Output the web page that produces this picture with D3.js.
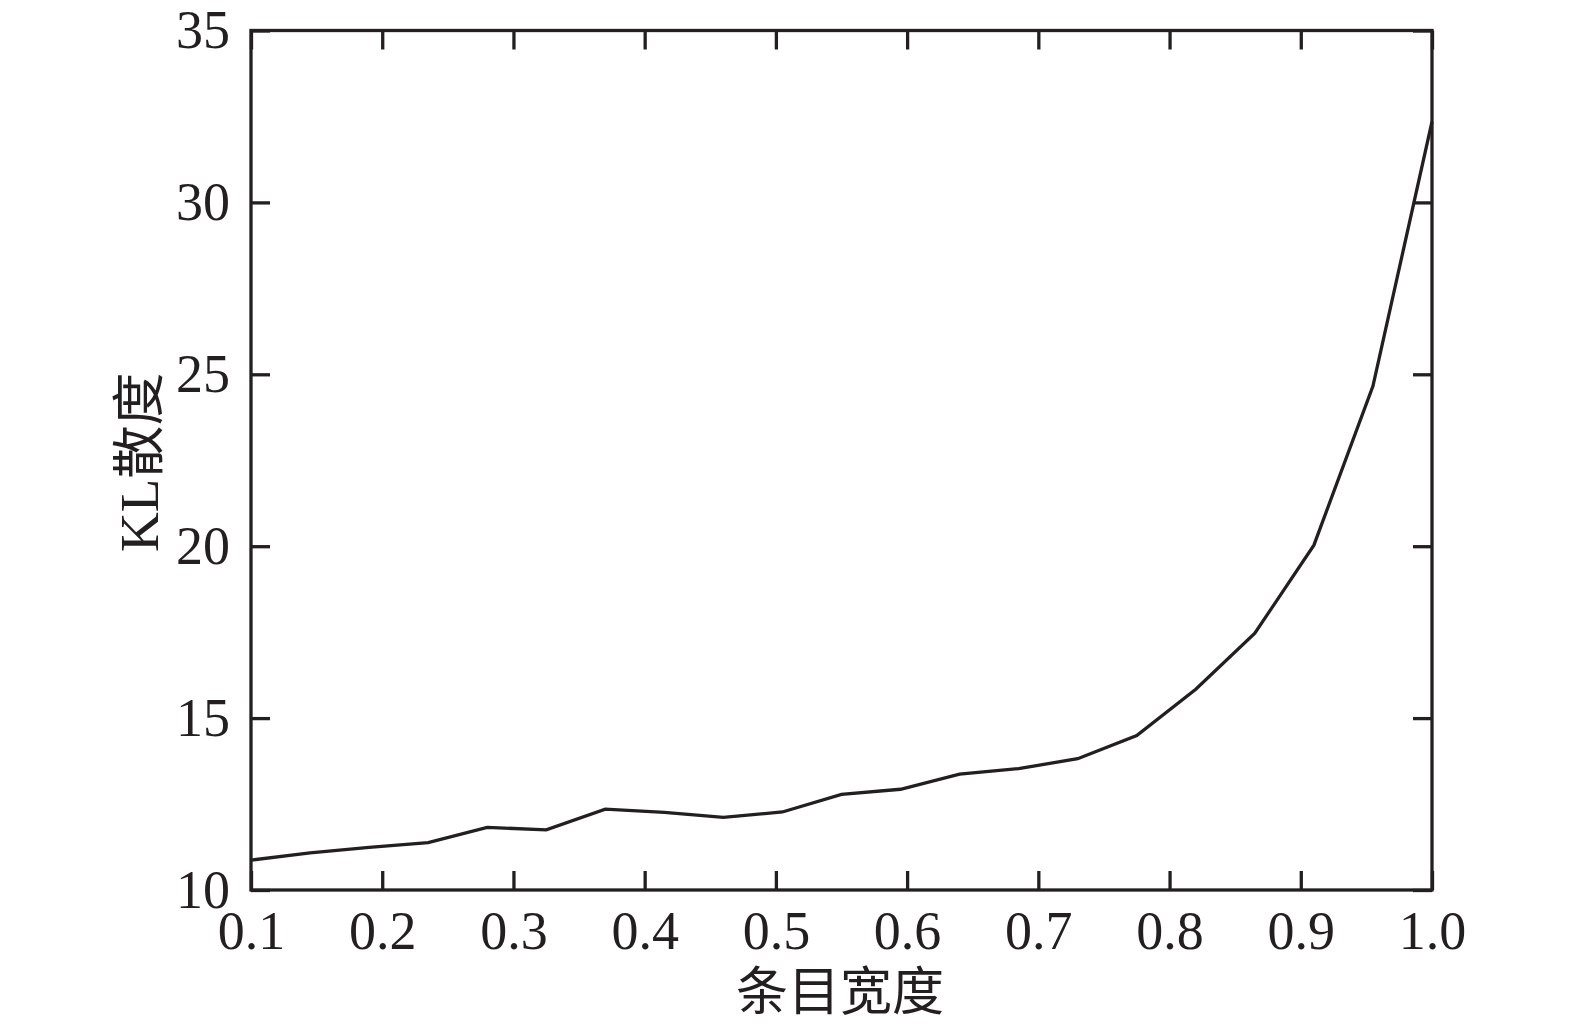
<!DOCTYPE html>
<html>
<head>
<meta charset="utf-8">
<script src="https://cdn.jsdelivr.net/npm/d3@7"></script>
<style>
  html, body { margin: 0; padding: 0; background: #fff; }
  svg { display: block; }
</style>
</head>
<body>
<svg id="chart" width="1575" height="1026"></svg>
<script>
const xValues = [0.1, 0.145, 0.19, 0.235, 0.28, 0.325, 0.37, 0.415, 0.46, 0.505, 0.55,
                 0.595, 0.64, 0.685, 0.73, 0.775, 0.82, 0.865, 0.91, 0.955, 1.0];
const klValues = [10.87, 11.08, 11.24, 11.38, 11.82, 11.75, 12.35, 12.26, 12.11, 12.27, 12.78,
                  12.93, 13.37, 13.53, 13.82, 14.49, 15.84, 17.47, 20.03, 24.66, 32.35];
const xTicks = [0.1, 0.2, 0.3, 0.4, 0.5, 0.6, 0.7, 0.8, 0.9, 1.0];
const yTicks = [10, 15, 20, 25, 30, 35];
const xTitle = "条目宽度";
const yTitleLatin = "KL";
const yTitleCJK = "散度";

const ink = "#231f20";
const serif = "'Liberation Serif', 'DejaVu Serif', serif";
const cjk = "'Noto Sans CJK SC', sans-serif";

const svg = d3.select("#chart");
const L = 251, R = 1432, T = 30.5, B = 890;
const x = d3.scaleLinear().domain([0.1, 1.0]).range([L, R]);
const y = d3.scaleLinear().domain([10, 35]).range([B, T]);
const tickLen = 19;

function styleAxis(g) {
  g.selectAll("path.domain").remove();
  g.selectAll(".tick line").attr("stroke", ink).attr("stroke-width", 3.3);
  g.selectAll(".tick text").attr("fill", ink).style("font-family", serif).style("font-size", "54px");
}

// bottom axis
svg.append("g").attr("transform", `translate(0,${B})`)
  .call(d3.axisBottom(x).tickValues(xTicks).tickFormat(d3.format(".1f")).tickSize(-tickLen).tickPadding(21))
  .call(styleAxis);
// top axis (ticks only)
svg.append("g").attr("transform", `translate(0,${T})`)
  .call(d3.axisTop(x).tickValues(xTicks).tickFormat("").tickSize(-tickLen))
  .call(styleAxis);
// left axis
svg.append("g").attr("transform", `translate(${L},0)`)
  .call(d3.axisLeft(y).tickValues(yTicks).tickFormat(d3.format("d")).tickSize(-tickLen).tickPadding(21))
  .call(styleAxis);
// right axis (ticks only)
svg.append("g").attr("transform", `translate(${R},0)`)
  .call(d3.axisRight(y).tickValues(yTicks).tickFormat("").tickSize(-tickLen))
  .call(styleAxis);

// frame
svg.append("rect")
  .attr("x", L).attr("y", T).attr("width", R - L).attr("height", B - T)
  .attr("fill", "none").attr("stroke", ink).attr("stroke-width", 3.3);

// line
const data = xValues.map((v, i) => ({ x: v, y: klValues[i] }));
svg.append("path")
  .datum(data)
  .attr("fill", "none")
  .attr("stroke", ink)
  .attr("stroke-width", 3.3)
  .attr("stroke-linejoin", "miter")
  .attr("d", d3.line().x(d => x(d.x)).y(d => y(d.y)));

// x title
svg.append("text")
  .attr("x", 840).attr("y", 1010)
  .attr("text-anchor", "middle")
  .attr("fill", ink)
  .style("font-family", cjk).style("font-size", "52px")
  .text(xTitle);

// y title
const yt = svg.append("text")
  .attr("transform", `translate(158,${(T + B) / 2 + 2}) rotate(-90)`)
  .attr("text-anchor", "middle")
  .attr("fill", ink);
yt.append("tspan").style("font-family", serif).style("font-size", "55px").text(yTitleLatin);
yt.append("tspan").style("font-family", cjk).style("font-size", "53px").text(yTitleCJK);
</script>
</body>
</html>
